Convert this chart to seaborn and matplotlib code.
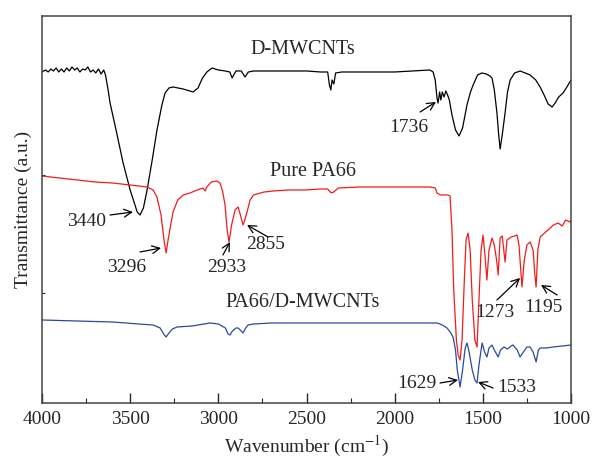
import pandas as pd
import matplotlib.pyplot as plt
import seaborn as sns
import numpy as np


# Data (wavenumber in cm-1, transmittance in a.u.)

dmwcnt_wn = [4000, 3980, 3965, 3950, 3935, 3920, 3905, 3890, 3875, 3860, 3845, 3830, 3815, 3800,
             3785, 3770, 3755, 3740, 3725, 3710, 3695, 3680, 3665, 3650, 3640, 3625, 3614, 3580,
             3540, 3500, 3460, 3444, 3425, 3404, 3375, 3348, 3320, 3302, 3280, 3257, 3200, 3143,
             3115, 3090, 3065, 3036, 3000, 2960, 2935, 2922, 2900, 2870, 2849, 2830, 2800, 2700,
             2600, 2500, 2420, 2380, 2370, 2362, 2355, 2345, 2335, 2300, 2200, 2100, 2000, 1900,
             1800, 1782, 1770, 1760, 1754, 1745, 1738, 1730, 1720, 1710, 1700, 1690, 1675, 1655,
             1635, 1615, 1590, 1570, 1555, 1530, 1505, 1480, 1460, 1448, 1435, 1420, 1410, 1402,
             1390, 1374, 1360, 1345, 1320, 1289, 1260, 1232, 1200, 1175, 1150, 1130, 1107, 1090,
             1070, 1045, 1020, 1000]
dmwcnt_t = [331, 333, 331, 334, 332, 335, 331, 334, 331, 335, 332, 336, 333, 335,
            331, 334, 333, 336, 331, 333, 330, 334, 329, 333, 328, 313, 300, 273,
            240, 213, 191, 188, 195, 213, 243, 273, 298, 310, 315, 316, 314, 311,
            315, 325, 331, 335, 333, 332, 331, 325, 332, 332, 326, 331, 332, 332,
            332, 332, 331, 331, 318, 313, 323, 319, 330, 331, 331, 331, 331, 332,
            333, 331, 323, 305, 300, 311, 303, 311, 306, 312, 308, 303, 288, 273,
            267, 275, 298, 311, 318, 328, 330, 329, 327, 325, 313, 290, 268, 254,
            268, 290, 311, 323, 330, 332, 330, 328, 323, 316, 307, 299, 296, 300,
            306, 310, 317, 323]

pa66_wn = [4000, 3900, 3800, 3700, 3600, 3500, 3404, 3370, 3348, 3325, 3308, 3296, 3285, 3270,
           3257, 3230, 3200, 3160, 3120, 3087, 3075, 3065, 3040, 3010, 2990, 2975, 2962, 2950,
           2939, 2925, 2905, 2888, 2875, 2860, 2850, 2837, 2820, 2800, 2780, 2740, 2690, 2600,
           2500, 2423, 2380, 2360, 2345, 2320, 2200, 2100, 2000, 1900, 1800, 1770, 1760, 1740,
           1700, 1686, 1675, 1665, 1650, 1640, 1629, 1618, 1605, 1595, 1584, 1572, 1560, 1545,
           1533, 1522, 1510, 1499, 1488, 1477, 1465, 1448, 1435, 1422, 1413, 1402, 1390, 1374,
           1363, 1340, 1320, 1306, 1295, 1285, 1278, 1265, 1250, 1232, 1215, 1205, 1198, 1188,
           1175, 1150, 1130, 1100, 1073, 1050, 1030, 1005, 1000]
pa66_t = [227, 225, 223, 221, 220, 218, 216, 213, 206, 188, 163, 150, 163, 178,
          191, 203, 208, 210, 213, 215, 212, 216, 221, 222, 220, 211, 198, 173,
          161, 178, 193, 196, 188, 178, 183, 191, 203, 208, 209, 211, 212, 213,
          213, 214, 214, 210, 211, 215, 216, 216, 216, 216, 216, 215, 210, 208,
          208, 207, 173, 113, 63, 48, 43, 63, 123, 163, 170, 153, 103, 63,
          56, 103, 153, 168, 148, 123, 153, 165, 158, 143, 128, 165, 167, 141,
          163, 166, 167, 168, 158, 133, 116, 143, 158, 161, 153, 128, 116, 153,
          166, 170, 173, 178, 180, 177, 183, 181, 183]

comp_wn = [4000, 3800, 3600, 3450, 3370, 3330, 3310, 3296, 3280, 3260, 3234, 3150, 3047, 3000,
           2960, 2945, 2934, 2920, 2900, 2888, 2870, 2860, 2845, 2832, 2800, 2700, 2500, 2300,
           2100, 1900, 1760, 1743, 1720, 1703, 1685, 1669, 1655, 1645, 1629, 1615, 1600, 1590,
           1580, 1560, 1545, 1533, 1522, 1510, 1504, 1490, 1477, 1465, 1448, 1435, 1413, 1400,
           1380, 1360, 1340, 1329, 1305, 1289, 1270, 1250, 1232, 1215, 1198, 1185, 1175, 1140,
           1102, 1050, 1000]
comp_t = [83, 82, 81, 79, 78, 75, 69, 66, 70, 74, 76, 77, 80, 79,
          75, 69, 68, 72, 75, 75, 72, 70, 75, 78, 79, 80, 80, 80,
          80, 80, 80, 79, 77, 75, 71, 66, 53, 33, 16, 33, 55, 60,
          53, 33, 23, 20, 38, 53, 60, 51, 46, 55, 58, 53, 46, 53,
          56, 54, 57, 58, 53, 46, 51, 56, 56, 51, 41, 53, 55, 55,
          56, 57, 58]

names = ['D-MWCNTs', 'Pure PA66', 'PA66/D-MWCNTs']
colors = ['black', '#f21c1c', '#2b4a9f']

# peak labels: text, text position, arrow tail, arrow head
peak_labels = ['3440', '3296', '2933', '2855', '1736', '1273', '1195', '1629', '1533']
peak_text_xy = [(3745, 181), (3518, 135), (2951, 135), (2735, 158), (1919, 275),
                (1431, 90), (1159, 95), (1873, 20), (1306, 16)]
peak_tail_xy = [(3614, 188), (3444, 151), (2974, 148), (2718, 166), (1856, 291),
                (1420, 103), (1079, 108), (1743, 20), (1442, 15)]
peak_head_xy = [(3484, 191), (3325, 155), (2934, 161), (2837, 178), (1766, 301),
                (1289, 125), (1170, 118), (1641, 23), (1527, 21)]

name_xy = [(2520, 353), (2463, 231), (2520, 100)]


df = pd.concat([
    pd.DataFrame({'wn': dmwcnt_wn, 't': dmwcnt_t, 'sample': names[0]}),
    pd.DataFrame({'wn': pa66_wn, 't': pa66_t, 'sample': names[1]}),
    pd.DataFrame({'wn': comp_wn, 't': comp_t, 'sample': names[2]}),
])


sns.set_style('ticks')
plt.rcParams['font.family'] = ['Liberation Serif', 'DejaVu Serif']
plt.rcParams['mathtext.fontset'] = 'stix'

fig = plt.figure(figsize=(5.94, 4.62), dpi=100)
ax = fig.add_axes([0.0707, 0.1277, 0.8906, 0.8377])

sns.lineplot(data=df, x='wn', y='t', hue='sample', palette=dict(zip(names, colors)),
             linewidth=0.9, legend=False, sort=False, ax=ax)

ax.set_xlim(4000, 1000)
ax.set_ylim(0, 387)
ax.set_xticks([4000, 3500, 3000, 2500, 2000, 1500, 1000])
ax.set_xticks([3750, 3250, 2750, 2250, 1750, 1250], minor=True)
ax.set_yticks([110, 228])
ax.set_yticklabels([])
ax.tick_params(axis='x', direction='in', length=7, width=1, labelsize=14, pad=6)
ax.tick_params(axis='x', which='minor', direction='in', length=3.5, width=0.8)
ax.tick_params(axis='y', direction='in', length=2.5, width=0.8)
for s in ax.spines.values():
    s.set_color('#444444')
    s.set_linewidth(1.1)

ax.set_xlabel('Wavenumber (cm$^{-1}$)', fontsize=14, labelpad=4)
ax.set_ylabel('Transmittance (a.u.)', fontsize=14, labelpad=4)

for n, (x, y) in zip(names, name_xy):
    ax.text(x, y, n, fontsize=14.5, ha='center', va='center')

for lab, txy, a, b in zip(peak_labels, peak_text_xy, peak_tail_xy, peak_head_xy):
    ax.text(txy[0], txy[1], lab, fontsize=14, ha='center', va='center')
    ax.annotate('', xy=b, xytext=a,
                arrowprops=dict(arrowstyle='->,head_length=0.55,head_width=0.28',
                                color='black', lw=0.9, shrinkA=0, shrinkB=0))

plt.savefig('out.png', dpi=100)
